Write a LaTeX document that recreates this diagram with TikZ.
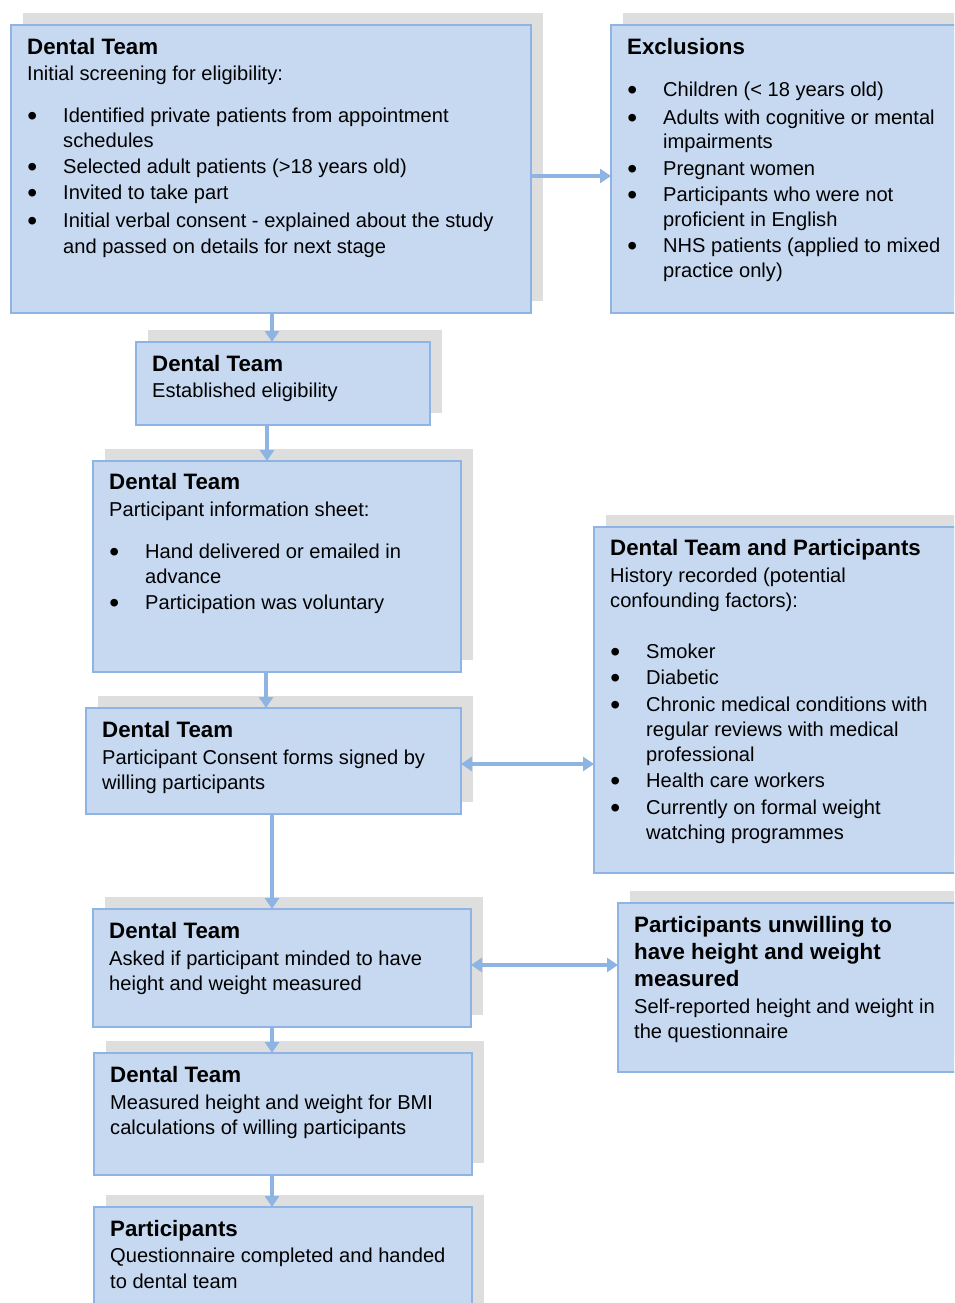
\documentclass[tikz,border=0pt]{standalone}
\usepackage{fontspec}
\setmainfont{Liberation Sans}
\usetikzlibrary{arrows.meta}
\definecolor{boxfill}{HTML}{C6D9F1}
\definecolor{boxline}{HTML}{8EB4E3}
\definecolor{shadegray}{HTML}{DEDEDE}
\definecolor{arrowblue}{HTML}{8EB4E3}
\tikzset{
  shadowbox/.style={fill=shadegray, draw=none},
  flowbox/.style={fill=boxfill, draw=boxline, line width=2pt, inner sep=0pt, outer sep=0pt, rectangle},
  hd/.style={anchor=base west, inner sep=0pt, yshift=-1.5pt, font=\fontsize{22.3}{26}\selectfont\bfseries},
  tx/.style={anchor=base west, inner sep=0pt, yshift=-1.5pt, font=\fontsize{20.1}{24}\selectfont},
  conn/.style={draw=arrowblue, line width=4pt, -{Triangle[width=14pt,length=11pt]}},
  dconn/.style={draw=arrowblue, line width=4pt, {Triangle[width=14pt,length=11pt]}-{Triangle[width=14pt,length=11pt]}},
}
% #1 name, #2 x1, #3 y1, #4 x2, #5 y2 (pixel coords, y downward)
\newcommand\flowrect[5]{%
  \fill[shadowbox] (#2+12,#3-12) rectangle (#4+12,#5-12);
  \node[flowbox, minimum width=#4pt-#2pt, minimum height=#5pt-#3pt] (#1) at ({(#2+#4)/2},{(#3+#5)/2}) {};
}
\newcommand\hl[4]{\node[hd] (#1) at (#2,#3) {#4};}
\newcommand\tl[4]{\node[tx] (#1) at (#2,#3) {#4};}
\newcommand\bl[4]{\node[tx] (#1) at (#2,#3) {\makebox[35pt][l]{\hspace{-0.8pt}\raisebox{-2.6pt}{\scalebox{1.4}{\textbullet}}}#4};}
\begin{document}
\begin{tikzpicture}[x=1pt,y=-1pt]
\useasboundingbox (0,0) rectangle (954,1303);
\clip (0,0) rectangle (954,1303);
\fill[white] (0,0) rectangle (954,1303);

% boxes
\flowrect{b1}{11}{25}{531}{313}
\flowrect{ex}{611}{25}{970}{313}
\flowrect{b2}{136}{342}{430}{425}
\flowrect{b3}{93}{461}{461}{672}
\flowrect{b4}{86}{708}{461}{814}
\flowrect{dp}{594}{527}{970}{873}
\flowrect{b5}{93}{909}{471}{1027}
\flowrect{uw}{618}{903}{970}{1072}
\flowrect{b6}{94}{1053}{472}{1175}
\flowrect{b7}{94}{1207}{472}{1330}

% connectors
\draw[conn] ([yshift=-7pt]b1.east) -- ([yshift=-7pt]b1.east -| ex.west);
\draw[conn] ([xshift=1pt]b1.south) -- ([xshift=1pt]b1.south |- b2.north);
\draw[conn] ([xshift=-16pt]b2.south) -- ([xshift=-16pt]b2.south |- b3.north);
\draw[conn] ([xshift=-11pt]b3.south) -- ([xshift=-11pt]b3.south |- b4.north);
\draw[dconn] ([yshift=-3pt]b4.east) -- ([yshift=-3pt]b4.east -| dp.west);
\draw[conn] ([xshift=-1.5pt]b4.south) -- ([xshift=-1.5pt]b4.south |- b5.north);
\draw[dconn] ([yshift=3pt]b5.east) -- ([yshift=3pt]b5.east -| uw.west);
\draw[conn] ([xshift=-10pt]b5.south) -- ([xshift=-10pt]b5.south |- b6.north);
\draw[conn] ([xshift=-11pt]b6.south) -- ([xshift=-11pt]b6.south |- b7.north);

% box 1
\hl{t1a}{27}{53}{Dental Team}
\tl{t1b}{27}{79}{Initial screening for eligibility:}
\bl{t1c}{28}{121}{Identified private patients from appointment}
\tl{t1d}{63}{146}{schedules}
\bl{t1e}{28}{172}{Selected adult patients (>18 years old)}
\bl{t1f}{28}{198}{Invited to take part}
\bl{t1g}{28}{226}{Initial verbal consent - explained about the study}
\tl{t1h}{63}{252}{and passed on details for next stage}

% exclusions
\hl{tea}{627}{53}{Exclusions}
\bl{teb}{628}{95}{Children (< 18 years old)}
\bl{tec}{628}{123}{Adults with cognitive or mental}
\tl{ted}{663}{147}{impairments}
\bl{tee}{628}{174}{Pregnant women}
\bl{tef}{628}{200}{Participants who were not}
\tl{teg}{663}{225}{proficient in English}
\bl{teh}{628}{251}{NHS patients (applied to mixed}
\tl{tei}{663}{276}{practice only)}

% box 2
\hl{t2a}{152}{370}{Dental Team}
\tl{t2b}{152}{396}{Established eligibility}

% box 3
\hl{t3a}{109}{488}{Dental Team}
\tl{t3b}{109}{515}{Participant information sheet:}
\bl{t3c}{110}{557}{Hand delivered or emailed in}
\tl{t3d}{145}{582}{advance}
\bl{t3e}{110}{608}{Participation was voluntary}

% box 4
\hl{t4a}{102}{736}{Dental Team}
\tl{t4b}{102}{763}{Participant Consent forms signed by}
\tl{t4c}{102}{788}{willing participants}

% dental team and participants
\hl{tda}{610}{554}{Dental Team and Participants}
\tl{tdb}{610}{581}{History recorded (potential}
\tl{tdc}{610}{606}{confounding factors):}
\bl{tdd}{611}{657}{Smoker}
\bl{tde}{611}{683}{Diabetic}
\bl{tdf}{611}{710}{Chronic medical conditions with}
\tl{tdg}{646}{735}{regular reviews with medical}
\tl{tdh}{646}{760}{professional}
\bl{tdi}{611}{786}{Health care workers}
\bl{tdj}{611}{813}{Currently on formal weight}
\tl{tdk}{646}{838}{watching programmes}

% box 5
\hl{t5a}{109}{937}{Dental Team}
\tl{t5b}{109}{964}{Asked if participant minded to have}
\tl{t5c}{109}{989}{height and weight measured}

% unwilling
\hl{tua}{634}{931}{Participants unwilling to}
\hl{tub}{634}{958}{have height and weight}
\hl{tuc}{634}{985}{measured}
\tl{tud}{634}{1012}{Self-reported height and weight in}
\tl{tue}{634}{1037}{the questionnaire}

% box 6
\hl{t6a}{110}{1081}{Dental Team}
\tl{t6b}{110}{1108}{Measured height and weight for BMI}
\tl{t6c}{110}{1133}{calculations of willing participants}

% box 7
\hl{t7a}{110}{1235}{Participants}
\tl{t7b}{110}{1261}{Questionnaire completed and handed}
\tl{t7c}{110}{1287}{to dental team}
\end{tikzpicture}
\end{document}
